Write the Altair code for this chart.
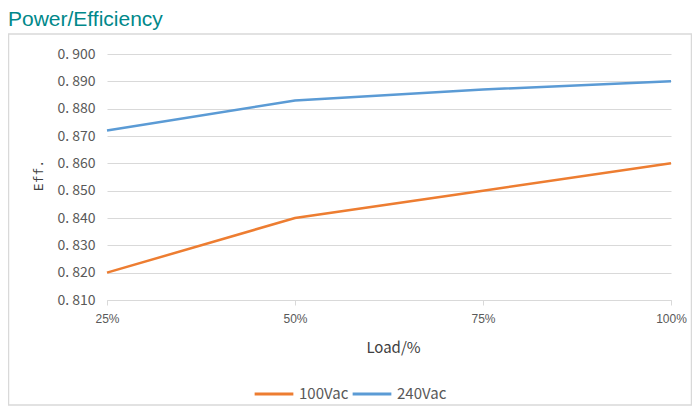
import altair as alt
import pandas as pd

loads = ["25%", "50%", "75%", "100%"]
eff_100vac = [0.820, 0.840, 0.850, 0.860]
eff_240vac = [0.872, 0.883, 0.887, 0.890]
series_names = ["100Vac", "240Vac"]
series_colors = ["#ED7D31", "#5B9BD5"]
y_ticks = [0.81, 0.82, 0.83, 0.84, 0.85, 0.86, 0.87, 0.88, 0.89, 0.90]
chart_title = "Power/Efficiency"

rows = []
for name, vals in zip(series_names, [eff_100vac, eff_240vac]):
    for l, v in zip(loads, vals):
        rows.append({"Load": l, "Eff": v, "Series": name})
df = pd.DataFrame(rows)

W, H = 564, 246
FONT = "Noto Sans CJK JP"

lines = alt.Chart(df).mark_line(strokeWidth=2.5).encode(
    x=alt.X("Load:N", sort=loads,
            scale=alt.Scale(type="point", padding=0),
            axis=alt.Axis(title="Load/%", labelAngle=0, domainColor="#d9d9d9",
                          tickColor="#d9d9d9", tickSize=5, labelPadding=8,
                          labelColor="#595959", labelFontSize=12, labelFont="Liberation Sans",
                          titleFont=FONT, titleFontSize=15, titleColor="#404040",
                          titleFontWeight="normal", titleX=W / 2 + 4, titleY=47,
                          titleBaseline="middle", titleAlign="center", grid=False)),
    y=alt.Y("Eff:Q", scale=alt.Scale(domain=[0.81, 0.90]),
            axis=alt.Axis(title="Eff.", values=y_ticks,
                          labelExpr="replace(format(datum.value, '.3f'), '.', '. ')",
                          domain=False, ticks=False, gridColor="#d9d9d9",
                          labelPadding=12, labelColor="#595959", labelFontSize=14,
                          labelFont=FONT, titleFont="DejaVu Sans Mono", titleFontSize=13,
                          titleColor="#404040", titleFontWeight="normal",
                          titleX=-69, titleY=H / 2 - 2, titleAngle=270,
                          titleBaseline="middle", titleAlign="center")),
    color=alt.Color("Series:N", sort=series_names,
                    scale=alt.Scale(domain=series_names, range=series_colors),
                    legend=alt.Legend(title=None, orient="none", direction="horizontal",
                                      legendX=146, legendY=319,
                                      symbolType="stroke", symbolSize=1500,
                                      symbolStrokeWidth=3, labelFontSize=15,
                                      labelColor="#595959", labelFont=FONT,
                                      columnPadding=-3, labelOffset=4)),
)

dummy = pd.DataFrame({"t": [chart_title]})
frame = alt.Chart(dummy).mark_rect(fill=None, stroke="#d9d9d9", strokeWidth=1.5, clip=False).encode(
    x=alt.value(-98.5), x2=alt.value(584.5), y=alt.value(-20), y2=alt.value(351)
)
title = alt.Chart(dummy).mark_text(align="left", baseline="alphabetic", fontSize=21,
                                   font="Liberation Sans", color="#00888A").encode(
    text="t:N", x=alt.value(-99), y=alt.value(-28)
)

chart = alt.layer(frame, lines, title).properties(
    width=W, height=H,
    autosize=alt.AutoSizeParams(type="none"),
    padding={"left": 99, "top": 46, "right": 21, "bottom": 106},
).configure_view(stroke=None)

chart.save("out.html", embed_options={"renderer": "svg", "actions": False})
